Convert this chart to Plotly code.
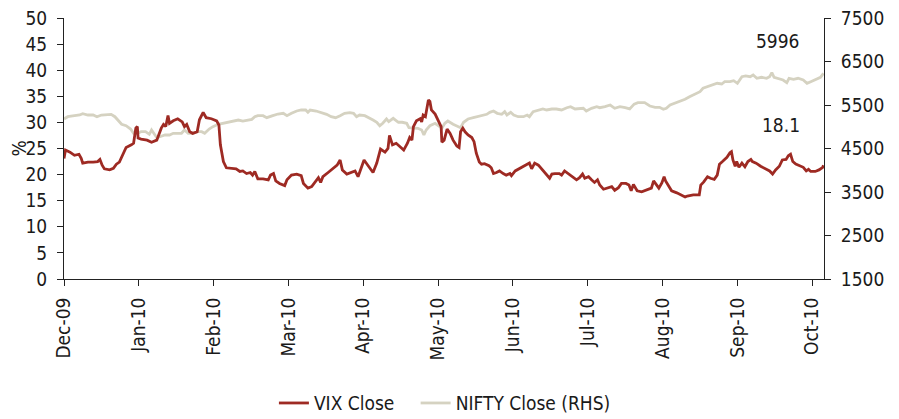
import plotly.graph_objects as go

# x positions are in months since Dec-09 (category-axis positions)
month_labels = ["Dec-09", "Jan-10", "Feb-10", "Mar-10", "Apr-10", "May-10",
                "Jun-10", "Jul-10", "Aug-10", "Sep-10", "Oct-10"]

vix_t = [0.00, 0.02, 0.08, 0.14, 0.20, 0.23, 0.25, 0.32, 0.39, 0.45, 0.48, 0.51, 0.54, 0.61, 0.66,
         0.70, 0.74, 0.78, 0.83, 0.90, 0.93, 0.96, 0.98, 0.99, 1.03, 1.11, 1.17, 1.24, 1.27, 1.30,
         1.33, 1.36, 1.39, 1.41, 1.46, 1.52, 1.58, 1.61, 1.64, 1.68, 1.72, 1.78, 1.81, 1.86, 1.90,
         1.97, 2.04, 2.07, 2.09, 2.13, 2.17, 2.24, 2.30, 2.35, 2.39, 2.44, 2.49, 2.52, 2.55, 2.59,
         2.66, 2.73, 2.76, 2.80, 2.83, 2.88, 2.95, 2.98, 3.04, 3.11, 3.17, 3.20, 3.26, 3.31, 3.35,
         3.40, 3.43, 3.46, 3.53, 3.60, 3.65, 3.69, 3.72, 3.78, 3.84, 3.89, 3.93, 3.98, 4.01, 4.06,
         4.13, 4.18, 4.23, 4.29, 4.33, 4.35, 4.39, 4.44, 4.49, 4.54, 4.59, 4.62, 4.65, 4.67, 4.71,
         4.76, 4.78, 4.80, 4.83, 4.87, 4.89, 4.91, 4.96, 5.00, 5.04, 5.05, 5.08, 5.12, 5.16, 5.20,
         5.25, 5.28, 5.30, 5.33, 5.36, 5.40, 5.45, 5.48, 5.51, 5.55, 5.58, 5.62, 5.68, 5.71, 5.74,
         5.78, 5.82, 5.87, 5.91, 5.96, 5.98, 6.03, 6.09, 6.16, 6.22, 6.25, 6.29, 6.34, 6.38, 6.44,
         6.49, 6.52, 6.56, 6.62, 6.65, 6.69, 6.74, 6.80, 6.85, 6.89, 6.93, 6.96, 7.01, 7.05, 7.09,
         7.13, 7.16, 7.21, 7.27, 7.32, 7.36, 7.41, 7.45, 7.51, 7.55, 7.58, 7.61, 7.66, 7.72, 7.79,
         7.85, 7.88, 7.92, 7.95, 7.99, 8.02, 8.04, 8.07, 8.12, 8.19, 8.25, 8.30, 8.33, 8.41, 8.49,
         8.51, 8.55, 8.60, 8.64, 8.69, 8.73, 8.76, 8.80, 8.86, 8.90, 8.92, 8.94, 8.97, 8.99, 9.02,
         9.06, 9.10, 9.14, 9.18, 9.20, 9.25, 9.31, 9.37, 9.43, 9.47, 9.51, 9.56, 9.60, 9.65, 9.68,
         9.71, 9.74, 9.78, 9.84, 9.88, 9.92, 9.95, 9.98, 10.04, 10.09, 10.14, 10.15]
vix_close = [23.1, 24.7, 24.3, 23.7, 23.9, 23.1, 22.2, 22.4, 22.4, 22.5, 22.9, 21.8, 21.1, 20.9, 21.2,
             22.0, 22.4, 23.8, 25.2, 25.7, 26.0, 28.9, 29.2, 27.0, 26.8, 26.6, 26.2, 26.6, 27.9, 28.9,
             29.6, 29.2, 31.3, 29.8, 30.3, 30.7, 30.1, 29.2, 29.6, 28.2, 27.9, 28.2, 30.5, 31.9, 30.9,
             30.7, 30.3, 29.5, 25.7, 22.5, 21.3, 21.2, 21.1, 20.6, 20.7, 20.2, 20.4, 19.9, 20.6, 19.2,
             19.2, 19.0, 19.9, 20.2, 18.8, 18.3, 17.9, 19.0, 19.9, 20.1, 19.8, 18.3, 17.4, 17.7, 18.5,
             19.4, 18.5, 19.6, 20.4, 21.3, 21.8, 22.8, 20.9, 20.1, 20.4, 20.7, 19.6, 21.5, 22.8, 21.8,
             20.4, 22.2, 24.9, 24.3, 25.0, 27.5, 25.7, 26.0, 25.3, 24.7, 26.0, 27.1, 26.6, 29.2, 30.3,
             30.7, 30.1, 31.4, 31.1, 34.3, 34.0, 32.4, 31.6, 30.5, 29.2, 26.2, 26.6, 28.7, 27.9, 26.6,
             25.5, 25.2, 28.2, 28.9, 28.2, 27.6, 27.1, 26.3, 24.1, 22.4, 22.0, 22.1, 21.7, 21.3, 20.2,
             20.4, 20.7, 20.2, 19.9, 20.2, 19.8, 20.7, 21.2, 21.7, 22.2, 21.1, 22.2, 21.8, 21.1, 20.1,
             19.3, 20.1, 20.2, 20.2, 19.9, 20.7, 20.2, 19.6, 19.0, 19.4, 20.1, 19.3, 19.6, 19.0, 18.5,
             19.0, 18.0, 17.2, 17.5, 17.7, 17.0, 17.5, 18.3, 18.3, 18.0, 16.9, 18.1, 16.9, 16.7, 17.0,
             17.4, 18.8, 18.0, 17.4, 18.4, 19.6, 18.8, 18.0, 16.9, 16.5, 16.1, 15.7, 15.9, 16.1, 16.1,
             18.0, 18.6, 19.6, 19.3, 19.1, 19.9, 22.0, 22.5, 23.3, 24.2, 24.4, 22.8, 21.6, 22.5, 21.4,
             22.2, 21.5, 22.5, 22.9, 22.5, 22.2, 21.6, 21.2, 20.7, 20.1, 20.9, 21.6, 22.8, 22.9, 23.6,
             23.9, 22.5, 22.0, 21.6, 21.4, 20.7, 21.0, 20.6, 20.6, 20.9, 21.4, 21.8]

nifty_t = [0.00, 0.05, 0.14, 0.21, 0.25, 0.32, 0.39, 0.44, 0.50, 0.57, 0.63, 0.68, 0.72, 0.77, 0.83,
           0.89, 0.93, 0.98, 1.03, 1.09, 1.14, 1.17, 1.20, 1.24, 1.28, 1.35, 1.41, 1.46, 1.51, 1.57,
           1.61, 1.66, 1.72, 1.79, 1.84, 1.88, 1.94, 1.99, 2.06, 2.13, 2.19, 2.26, 2.33, 2.39, 2.46,
           2.51, 2.55, 2.59, 2.66, 2.71, 2.79, 2.86, 2.93, 2.98, 3.04, 3.11, 3.17, 3.23, 3.26, 3.29,
           3.37, 3.44, 3.51, 3.57, 3.63, 3.69, 3.75, 3.82, 3.87, 3.91, 3.95, 4.02, 4.08, 4.13, 4.18,
           4.22, 4.26, 4.31, 4.34, 4.40, 4.43, 4.47, 4.52, 4.58, 4.61, 4.67, 4.73, 4.78, 4.81, 4.84,
           4.89, 4.96, 5.01, 5.05, 5.09, 5.13, 5.20, 5.27, 5.30, 5.34, 5.40, 5.47, 5.53, 5.60, 5.65,
           5.69, 5.74, 5.79, 5.85, 5.89, 5.92, 5.97, 6.01, 6.07, 6.14, 6.19, 6.22, 6.27, 6.34, 6.40,
           6.45, 6.52, 6.58, 6.65, 6.72, 6.77, 6.83, 6.89, 6.94, 6.98, 7.05, 7.12, 7.16, 7.23, 7.30,
           7.36, 7.43, 7.50, 7.56, 7.62, 7.67, 7.76, 7.83, 7.90, 7.96, 8.01, 8.05, 8.10, 8.16, 8.23,
           8.30, 8.36, 8.43, 8.50, 8.54, 8.61, 8.68, 8.73, 8.79, 8.83, 8.90, 8.95, 9.00, 9.06, 9.11,
           9.17, 9.21, 9.26, 9.32, 9.39, 9.43, 9.46, 9.49, 9.55, 9.61, 9.66, 9.69, 9.75, 9.81, 9.88,
           9.93, 9.98, 10.05, 10.11, 10.15]
nifty_close = [5178, 5231, 5254, 5270, 5300, 5270, 5270, 5231, 5270, 5286, 5286, 5231, 5155, 5057, 5024,
               4948, 4850, 4850, 4886, 4886, 4827, 4925, 4850, 4748, 4771, 4810, 4810, 4850, 4850, 4850,
               4925, 4850, 4850, 4886, 4886, 4850, 4948, 5002, 5057, 5080, 5103, 5132, 5155, 5132, 5155,
               5170, 5230, 5254, 5254, 5208, 5254, 5293, 5309, 5254, 5309, 5362, 5385, 5385, 5332, 5385,
               5362, 5332, 5286, 5231, 5208, 5254, 5309, 5323, 5309, 5231, 5270, 5254, 5208, 5155, 5103,
               5024, 5080, 5178, 5116, 5194, 5155, 5103, 5103, 5080, 4978, 4965, 4965, 4925, 4810, 4925,
               5024, 5080, 5024, 4965, 5080, 5132, 5057, 5002, 4978, 5103, 5178, 5208, 5231, 5270, 5286,
               5332, 5362, 5309, 5286, 5347, 5270, 5332, 5270, 5231, 5231, 5270, 5231, 5347, 5385, 5408,
               5385, 5408, 5408, 5385, 5438, 5461, 5408, 5424, 5424, 5362, 5424, 5461, 5438, 5461, 5500,
               5424, 5461, 5438, 5410, 5520, 5553, 5553, 5477, 5447, 5447, 5401, 5424, 5500, 5539, 5576,
               5631, 5691, 5753, 5806, 5884, 5921, 5960, 5999, 5983, 6036, 6036, 6059, 5999, 6151, 6167,
               6151, 6190, 6114, 6137, 6114, 6151, 6243, 6137, 6114, 6075, 6013, 6114, 6091, 6114, 6075,
               5999, 6036, 6091, 6137, 6229]

vix_range = [0, 50]
nifty_range = [1500, 7500]

FONT = "Liberation Sans Narrow, Arial Narrow, DejaVu Sans Condensed, sans-serif"
TXT = "#1a1a1a"
RED = "#9e2a23"
GREY = "#d5d2c1"
FS = 19

fig = go.Figure()
fig.add_trace(go.Scatter(x=vix_t, y=vix_close, name="VIX Close\u00a0\u00a0\u00a0", mode="lines",
                         line=dict(color=RED, width=2.8), yaxis="y2"))
fig.add_trace(go.Scatter(x=nifty_t, y=nifty_close, name="NIFTY Close (RHS)", mode="lines",
                         line=dict(color=GREY, width=2.8), yaxis="y"))

axis_common = dict(showgrid=False, zeroline=False, showline=True, linecolor="#222",
                   linewidth=1, ticks="outside", ticklen=6, tickcolor="#222", automargin=False,
                   ticklabeloverflow="allow",
                   tickfont=dict(family=FONT, size=FS, color=TXT))

# the page body adds an 8px offset, so margins are reduced by 8 on the left/top
fig.update_layout(
    width=899, height=419,
    margin=dict(l=56, r=83, t=10, b=148, autoexpand=False),
    paper_bgcolor="white", plot_bgcolor="white",
    font=dict(family=FONT, size=FS, color=TXT),
    xaxis=dict(range=[0, 10.157], tickvals=list(range(len(month_labels))),
               ticktext=month_labels, tickangle=-90, ticklabelstandoff=4, **axis_common),
    yaxis=dict(range=nifty_range, tick0=1500, dtick=1000, side="right",
               ticklabelstandoff=6, **axis_common),
    yaxis2=dict(range=vix_range, tick0=0, dtick=5, side="left", overlaying="y",
                ticklabelstandoff=6, **axis_common),
    showlegend=True,
    legend=dict(orientation="h", xref="container", yref="container",
                x=0.486, xanchor="center", y=0.057, yanchor="middle",
                font=dict(family=FONT, size=FS, color=TXT), bgcolor="rgba(0,0,0,0)"),
    annotations=[
        dict(text="%", xref="paper", yref="paper", x=0, y=0.5, xshift=-46, textangle=-90,
             xanchor="center", yanchor="middle", showarrow=False,
             font=dict(family=FONT, size=FS, color=TXT)),
        dict(text="5996", xref="paper", yref="paper", x=0.939, y=0.912, showarrow=False,
             xanchor="center", yanchor="middle", font=dict(family=FONT, size=FS, color=TXT)),
        dict(text="18.1", xref="paper", yref="paper", x=0.943, y=0.590, showarrow=False,
             xanchor="center", yanchor="middle", font=dict(family=FONT, size=FS, color=TXT)),
    ],
)

fig.write_html("out.html")
